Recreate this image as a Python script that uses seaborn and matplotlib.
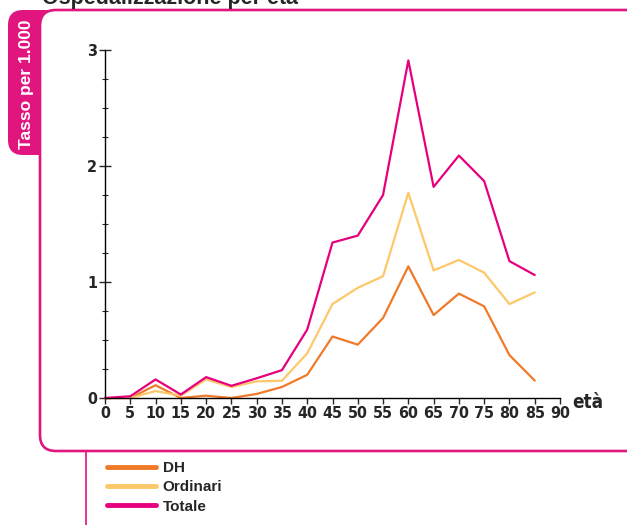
import matplotlib
matplotlib.use("Agg")
import matplotlib.pyplot as plt
from matplotlib.patches import FancyBboxPatch
from matplotlib.lines import Line2D
import pandas as pd
import seaborn as sns

# dati (tasso per 1.000, per classe d'età)
ages = [0, 5, 10, 15, 20, 25, 30, 35, 40, 45, 50, 55, 60, 65, 70, 75, 80, 85]
dh = [0.00, 0.00, 0.11, 0.00, 0.02, 0.00, 0.035, 0.095, 0.20, 0.53, 0.46, 0.69,
      1.135, 0.715, 0.90, 0.79, 0.37, 0.15]
ordinari = [0.00, 0.00, 0.06, 0.02, 0.16, 0.095, 0.143, 0.149, 0.385, 0.81, 0.95,
            1.05, 1.77, 1.10, 1.19, 1.08, 0.81, 0.91]
totale = [0.00, 0.015, 0.16, 0.03, 0.18, 0.105, 0.17, 0.24, 0.59, 1.34, 1.40, 1.75,
          2.91, 1.82, 2.09, 1.87, 1.18, 1.06]
series = ["DH", "Ordinari", "Totale"]
colors = ["#F07A2A", "#FDC86A", "#E6007E"]
xticks = list(range(0, 95, 5))
yticks = [0, 1, 2, 3]

PINK = "#E0157E"
SANS = ["Liberation Sans", "DejaVu Sans"]

df = pd.DataFrame({
    "età": ages * 3,
    "tasso": dh + ordinari + totale,
    "serie": [s for s in series for _ in ages],
})

sns.set_style("white")
plt.rcParams["font.family"] = SANS

W, H = 627, 525
fig = plt.figure(figsize=(W / 100, H / 100), dpi=100)


def px(x, y_top):
    # pixel con origine in alto a sinistra -> coordinate display
    return x, H - y_top


# linguetta rosa a sinistra (sotto la cornice)
x0, y0 = px(8, 155)
tab = FancyBboxPatch((x0, y0), 70, 145, boxstyle="round,pad=0,rounding_size=15",
                     facecolor=PINK, edgecolor="none", transform=None, zorder=-3)
fig.add_artist(tab)
# cornice arrotondata
x0, y0 = px(40, 451)
frame = FancyBboxPatch((x0, y0), 620, 441, boxstyle="round,pad=0,rounding_size=16",
                       facecolor="white", edgecolor=PINK, linewidth=1.9,
                       transform=None, zorder=-2)
fig.add_artist(frame)
# linea verticale sotto la cornice
fig.add_artist(Line2D([86, 86], [0, H - 452], color=PINK, lw=1.2,
                      transform=None, zorder=-2))

fig.text(26.5 / W, 1 - 84 / H, "Tasso per 1.000", rotation=90, color="white",
         fontsize=12.5, fontweight="bold", ha="center", va="center", family=SANS)
fig.text(42 / W, 1 - 4 / H, "Ospedalizzazione per età", fontsize=15.5,
         fontweight="bold", ha="left", va="baseline", family=SANS)

ax = fig.add_axes([105 / W, 1 - 398 / H, 455 / W, 348 / H])
ax.set_facecolor("none")
sns.lineplot(data=df, x="età", y="tasso", hue="serie", palette=colors,
             linewidth=1.6, ax=ax, clip_on=False, legend=False)

ax.set_xlim(0, 90)
ax.set_ylim(0, 3)
ax.set_xticks(xticks)
ax.set_yticks(yticks)
ax.set_yticks([i * 0.25 for i in range(13)], minor=True)
ax.set_xlabel("")
ax.set_ylabel("")
for s in ["top", "right"]:
    ax.spines[s].set_visible(False)
for s in ["left", "bottom"]:
    ax.spines[s].set_color("black")
    ax.spines[s].set_linewidth(1.0)
ax.tick_params(axis="y", which="major", direction="inout", length=9, width=1,
               pad=1, left=True)
ax.tick_params(axis="y", which="minor", direction="inout", length=4, width=0.8,
               left=True)
ax.tick_params(axis="x", which="major", direction="out", length=4, width=1,
               pad=2, bottom=True)
for lab in ax.get_xticklabels() + ax.get_yticklabels():
    lab.set_family("DejaVu Sans")
    lab.set_fontstretch("condensed")
    lab.set_fontweight("bold")
    lab.set_fontsize(11.5)

fig.text(588 / W, 1 - 402 / H, "età", fontsize=13.5, fontweight="bold",
         fontstretch="condensed", ha="center", va="center", family="DejaVu Sans")

handles = [Line2D([], [], color=c, lw=3.5) for c in colors]
leg = fig.legend(handles, series, loc="upper left",
                 bbox_to_anchor=(107 / W, 1 - 461 / H),
                 bbox_transform=fig.transFigure, frameon=False,
                 handlelength=3.2, handletextpad=0.45, labelspacing=0.35,
                 borderpad=0, borderaxespad=0,
                 prop={"family": SANS, "weight": "bold", "size": 11})

fig.savefig("out.png", dpi=100)
